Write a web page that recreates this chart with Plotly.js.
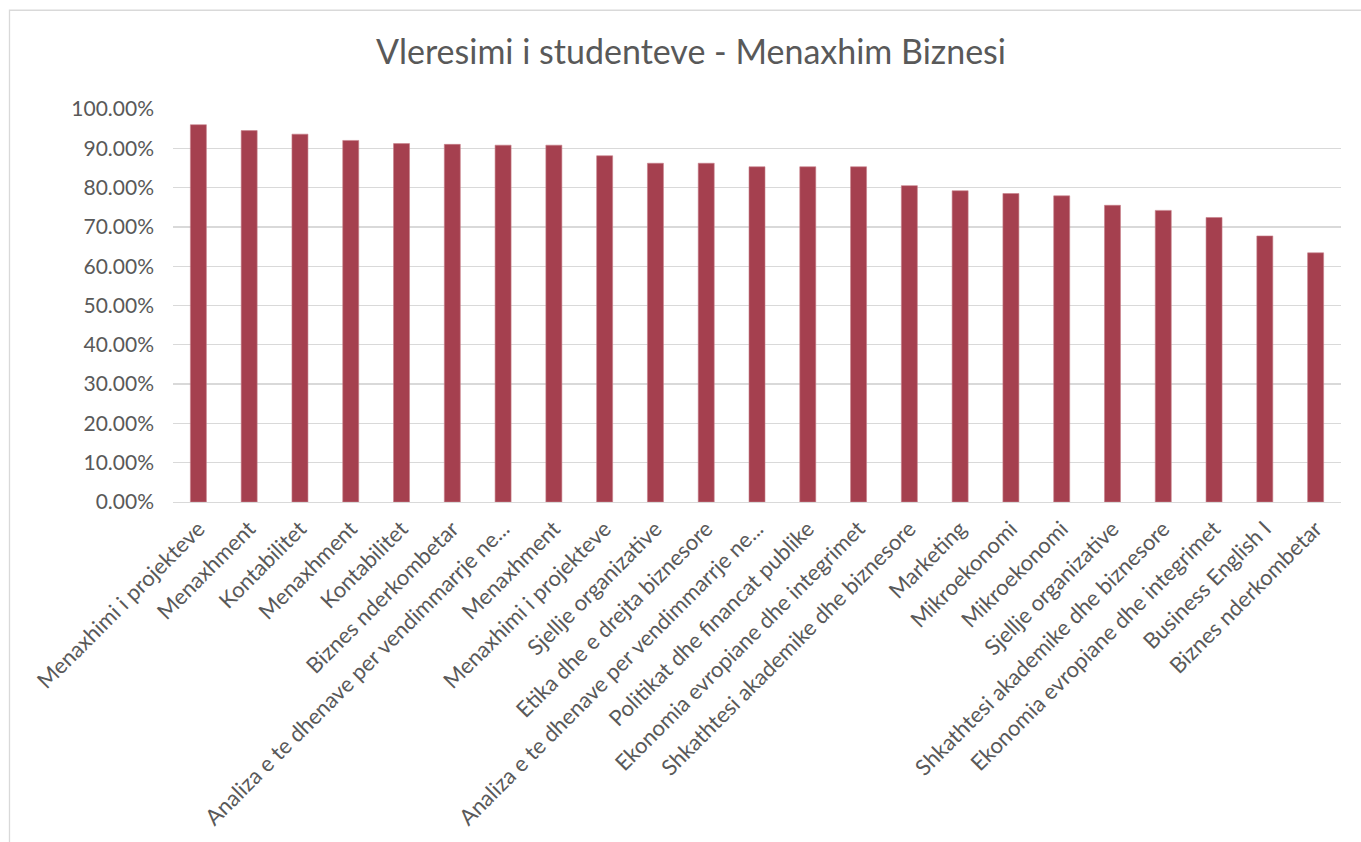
<!DOCTYPE html>
<html>
<head>
<meta charset="utf-8">
<script src="https://cdn.plot.ly/plotly-3.0.1.min.js"></script>
<style>
html,body{margin:0;padding:0;background:#fff;}
#chart{width:1361px;height:842px;}
</style>
</head>
<body>
<div id="chart"></div>
<script>
const categories = [
  "Menaxhimi i projekteve",
  "Menaxhment",
  "Kontabilitet",
  "Menaxhment",
  "Kontabilitet",
  "Biznes nderkombetar",
  "Analiza e te dhenave per vendimmarrje ne...",
  "Menaxhment",
  "Menaxhimi i projekteve",
  "Sjellje organizative",
  "Etika dhe e drejta biznesore",
  "Analiza e te dhenave per vendimmarrje ne...",
  "Politikat dhe financat publike",
  "Ekonomia evropiane dhe integrimet",
  "Shkathtesi akademike dhe biznesore",
  "Marketing",
  "Mikroekonomi",
  "Mikroekonomi",
  "Sjellje organizative",
  "Shkathtesi akademike dhe biznesore",
  "Ekonomia evropiane dhe integrimet",
  "Business English I",
  "Biznes nderkombetar"
];
const values = [0.960, 0.945, 0.936, 0.920, 0.912, 0.910, 0.908, 0.908, 0.881, 0.862, 0.862, 0.853, 0.853, 0.853, 0.805, 0.792, 0.785, 0.779, 0.755, 0.742, 0.724, 0.677, 0.634];
const positions = categories.map((c, i) => i);

const W = 1361, H = 842;
const ml = 173, mr = 20, mt = 108.5, mb = 339.5;
const pw = W - ml - mr, ph = H - mt - mb;
const px = v => (v - ml) / pw;
const py = v => 1 - (v - mt) / ph;

const FONT = "Lato, 'Open Sans', sans-serif";

const trace = {
  type: 'bar',
  x: positions,
  y: values,
  marker: {color: '#a5404f', line: {color: '#c77f8a', width: 0.6}},
  hoverinfo: 'y'
};

const layout = {
  width: W, height: H,
  margin: {l: ml, r: mr, t: mt, b: mb},
  paper_bgcolor: '#ffffff',
  plot_bgcolor: '#ffffff',
  bargap: 0.685,
  showlegend: false,
  title: {
    text: 'Vleresimi i studenteve - Menaxhim Biznesi',
    font: {family: FONT, size: 34, color: '#595959'},
    x: 691 / W, xref: 'container', xanchor: 'center',
    y: 1 - 52 / H, yref: 'container', yanchor: 'middle'
  },
  xaxis: {
    tickmode: 'array',
    tickvals: positions,
    ticktext: categories,
    tickangle: -45,
    range: [-0.5, categories.length - 0.5],
    showgrid: false,
    showline: true,
    linecolor: '#d9d9d9',
    linewidth: 1.3,
    ticks: '',
    ticklabelstandoff: 4,
    tickfont: {family: FONT, size: 22, color: '#595959'},
    automargin: false
  },
  yaxis: {
    range: [0, 1],
    dtick: 0.1,
    tickformat: '.2%',
    showgrid: true,
    gridcolor: '#d9d9d9',
    gridwidth: 1.3,
    zeroline: false,
    ticks: '',
    ticklabelstandoff: 18,
    tickfont: {family: FONT, size: 21, color: '#595959'},
    automargin: false
  },
  shapes: [{
    type: 'rect', xref: 'paper', yref: 'paper',
    x0: px(9.5), x1: px(1420), y0: py(9.5), y1: py(900),
    line: {color: '#d9d9d9', width: 1.3},
    fillcolor: 'rgba(0,0,0,0)',
    layer: 'below'
  }]
};

Plotly.newPlot('chart', [trace], layout, {displayModeBar: false, staticPlot: true});
</script>
</body>
</html>
